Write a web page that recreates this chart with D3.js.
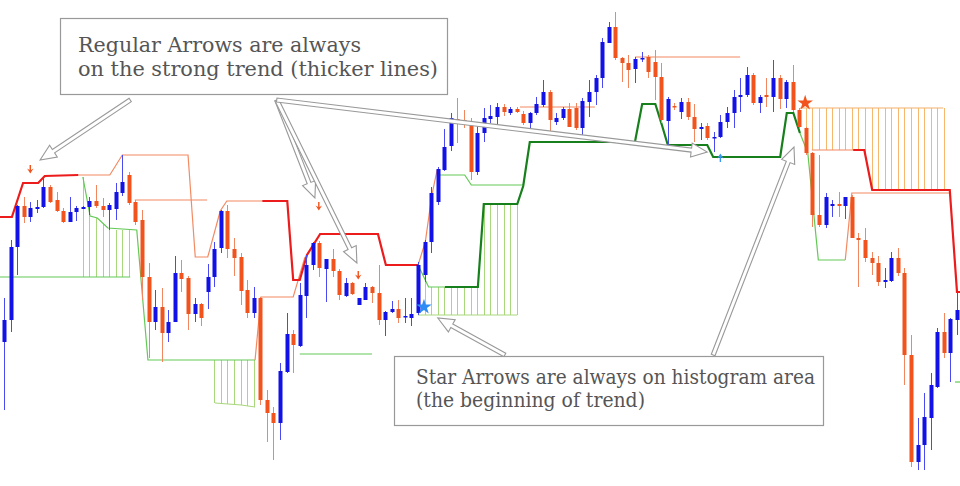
<!DOCTYPE html>
<html><head><meta charset="utf-8">
<script src="https://cdn.jsdelivr.net/npm/d3@7"></script>
<style>html,body{margin:0;padding:0;background:#fff;overflow:hidden}svg{display:block}</style>
</head><body>
<svg id="chart" width="960" height="486"></svg>
<script>
// ---------- candle data (index 0..145) ----------
const opens  = [158,180,253,294,283,291,293,313,300,289, 278,288,291,293,299,294,290,291,307,325,
                298,280,223,178,193,167,178,227,222,186, 196,208,223,252,289,251,243,210,187,202,
                100,87,77,128,166,154,204,235,257,231, 241,229,204,217,195,200,213,207,180,188,
                191,183,182,187,225,258,298,330,354,381, 380,377,328,367,381,383,393,387,391,386,
                377,387,395,408,378,382,391,392,372,398, 408,422,457,473,442,437,431,441,443,438,
                423,379,394,388,398,383,371,374,362,363, 378,387,403,405,425,397,405,403,422,401,
                418,390,372,347,285,275,294,296,294,303, 262,260,242,237,218,219,242,227,145,38,
                55,82,113,168,147,180];
const highs  = [202,260,295,303,298,300,322,315,308,292, 303,294,294,303,315,302,297,317,345,328,
                300,290,237,210,212,190,244,240,224,202, 197,236,258,290,295,262,247,220,213,203,
                110,93,137,187,170,217,245,258,259,241, 251,231,222,218,202,217,214,235,189,199,
                200,202,202,238,260,313,333,371,387,402, 390,382,377,392,395,397,396,393,393,389,
                388,403,420,410,387,393,397,397,402,420, 425,462,478,488,443,445,443,448,445,450,
                437,403,397,402,402,396,377,377,368,385, 393,410,422,433,427,405,422,440,425,420,
                435,392,373,348,345,307,300,308,303,305, 267,272,248,244,232,248,252,232,165,82,
                107,127,172,187,182,208];
const lows   = [90,168,225,277,278,287,292,297,288,277, 278,279,291,285,292,283,270,280,304,295,
                275,200,142,170,138,158,178,208,170,178, 174,191,213,247,242,224,195,182,182,95,
                58,40,60,127,127,153,182,230,223,198, 223,200,203,205,195,200,197,175,164,187,
                177,177,174,185,218,247,295,329,349,357, 372,320,325,358,377,375,384,385,387,375,
                368,385,393,367,375,380,373,370,363,383, 395,412,457,440,418,412,417,438,422,400,
                377,355,390,381,380,358,360,360,348,362, 372,372,388,403,395,387,393,388,391,392,
                388,372,345,273,273,272,283,283,281,262, 213,238,225,214,212,218,224,115,33,30,
                30,50,112,142,118,165];
const closes = [180,253,294,283,292,293,313,298,289,278, 288,292,293,299,294,290,295,308,318,297,
                278,223,178,193,167,178,227,221,186,196, 182,223,251,289,251,242,209,187,202,100,
                87,77,129,166,155,205,235,257,232,241, 229,205,217,206,202,213,207,180,188,191,
                182,184,186,235,258,307,331,353,382,379, 377,328,367,382,384,393,388,391,388,377,
                387,396,408,380,382,391,373,372,399,408, 422,458,473,442,437,430,441,442,428,423,
                380,401,393,398,383,371,373,362,363,378, 387,403,405,425,397,403,403,422,401,418,
                390,373,347,285,275,303,296,294,303,262, 260,242,237,218,220,242,227,145,38,55,
                83,115,168,147,181,190];

// ---------- indicator lines: [candle index, price] ----------
const redThick = [
  [[-1,283],[1.2,283],[2.9,317],[5.2,317],[6.2,324],[11.3,325]],
  [[39.3,299],[43.1,299],[44.0,220],[45.0,220],[46.1,245],[48.1,266],[56.9,266],[58.1,235],[63.0,235]],
  [[129.2,350],[130.9,350],[132.1,310],[143.9,310],[145.0,208],[146.5,208]]
];
const orangeThin = [
  [[11.3,325],[16.1,325],[18.0,345],[28.0,345],[29.1,243],[31.0,243],[32.9,289],[33.9,299],[39.3,299]],
  [[38.2,140],[39.1,203],[44.0,203],[45.8,243]],
  [[63.0,235],[64.1,258],[65.1,305],[65.9,330]],
  [[19.9,300],[30.9,300]],
  [[78.5,393],[89.9,393]],
  [[96.0,443],[112.0,443]],
  [[122.9,350],[129.2,350]],
  [[128.0,240],[129.0,307],[143.9,307]]
];
const greenThick = [
  [[67.1,213],[72.1,213],[73.0,296],[78.1,296],[79.0,314],[80.0,358],[96.0,358],[97.1,396],[99.1,396],
   [100.1,375],[101.0,355],[107.0,355],[107.9,343],[118.1,343],[119.1,387],[120.1,387],[121.1,367]]
];
const greenThin = [
  [[-1,223],[19.2,223]],
  [[12.0,323],[13.1,284],[14.2,282],[15.8,272],[20.2,270],[21.9,140],[38.2,140]],
  [[45.0,146],[56.0,146]],
  [[63.0,235],[64.6,213],[67.1,213]],
  [[121.1,367],[122.3,347],[123.9,240],[128.0,240]],
  [[66.3,325],[70.1,325],[71.1,315],[79.0,315]],
  [[144.7,118],[146.5,118]]
];
const histLines = [ // light histogram border lines
  [[32.1,97],[36.1,95],[38.2,93]],
  [[63.0,185],[78.1,185]]
];
const histTopOrange = [[121.1,392],[142.9,392]];

// ---------- histograms: [index, top price, bottom price] ----------
const greenHist = [
  [12,323,223],[13,286,223],[14,282,223],[15,277,223],[16,271,223],[17,270,223],[18,270,223],[19,270,223],
  [32,140,97],[33,140,96],[34,140,96],[35,140,95],[36,140,95],[37,140,94],[38,140,93],
  [63,235,185],[64,218,185],[65,213,185],[66,213,185],[67,213,185],[68,213,185],[69,213,185],[70,213,185],
  [71,213,185],[72,213,185],[73,296,185],[74,296,185],[75,296,185],[76,296,185],[77,296,185],[78,296,185]
];
const orangeHist = [
  [122,392,350],[123,392,350],[124,392,350],[125,392,350],[126,392,350],[127,392,350],[128,392,350],
  [129,392,350],[130,392,350],[131,392,345],[132,392,312],[133,392,310],[134,392,310],[135,392,310],
  [136,392,310],[137,392,310],[138,392,310],[139,392,310],[140,392,310],[141,392,310],[142,392,310],[143,392,310]
];

// ---------- signal markers ----------
const downArrows = [[4.0,330],[47.9,293],[53.9,224]];
const upArrows = [[109.0,343]];
const stars = [[63.9,193,"#2f8cf5"],[121.9,397,"#f2521c"]];

// ---------- annotation callouts (tail, tip in index/price) ----------
const callouts = [
  [[19.2,400],[5.5,340]],
  [[41.5,400],[47.3,302]],
  [[41.5,400],[53.7,237]],
  [[41.5,400],[107.0,348]],
  [[76.2,145],[66.0,182]],
  [[107.9,145],[120.2,353]]
];
const box1Lines = ["Regular Arrows are always","on the strong trend (thicker lines)"];
const box1Widths = [283,360];
const box2Lines = ["Star Arrows are always on histogram area","(the beginning of trend)"];
const box2Widths = [399,229];

// ---------- drawing ----------
const svg = d3.select("#chart");
const x = d3.scaleLinear().domain([0,145]).range([4,957]);
const y = d3.scaleLinear().domain([14,500]).range([486,0]);
const line = d3.line().x(d=>x(d[0])).y(d=>y(d[1]));

const BLUE="#1212e8", ORANGE="#f2521c";

// histograms
svg.append("g").selectAll("line").data(greenHist).join("line")
  .attr("x1",d=>Math.round(x(d[0]))+0.5).attr("x2",d=>Math.round(x(d[0]))+0.5)
  .attr("y1",d=>y(d[1])).attr("y2",d=>y(d[2]))
  .attr("stroke","#a9d77c").attr("stroke-width",1);
svg.append("g").selectAll("line").data(orangeHist).join("line")
  .attr("x1",d=>Math.round(x(d[0]))+0.5).attr("x2",d=>Math.round(x(d[0]))+0.5)
  .attr("y1",d=>y(d[1])).attr("y2",d=>y(d[2]))
  .attr("stroke","#f6b86c").attr("stroke-width",1);
svg.append("path").attr("d",line(histTopOrange)).attr("fill","none").attr("stroke","#f6b06a").attr("stroke-width",1.2);
svg.append("g").selectAll("path").data(histLines).join("path")
  .attr("d",line).attr("fill","none").attr("stroke","#a9d77c").attr("stroke-width",1.2);

// lines
svg.append("g").selectAll("path").data(greenThin).join("path")
  .attr("d",line).attr("fill","none").attr("stroke","#62c956").attr("stroke-width",1.2);
svg.append("g").selectAll("path").data(orangeThin).join("path")
  .attr("d",line).attr("fill","none").attr("stroke","#f28a62").attr("stroke-width",1.2);
svg.append("g").selectAll("path").data(greenThick).join("path")
  .attr("d",line).attr("fill","none").attr("stroke","#17801c").attr("stroke-width",2.2);
svg.append("g").selectAll("path").data(redThick).join("path")
  .attr("d",line).attr("fill","none").attr("stroke","#ec1c1c").attr("stroke-width",2.2);

// candles
const candles = d3.range(opens.length).map(i=>({i,o:opens[i],h:highs[i],l:lows[i],c:closes[i]}));
const cg = svg.append("g");
cg.selectAll("line").data(candles).join("line")
  .attr("x1",d=>Math.round(x(d.i))+0.5).attr("x2",d=>Math.round(x(d.i))+0.5)
  .attr("y1",d=>y(d.h)).attr("y2",d=>y(d.l))
  .attr("stroke",d=>d.c>=d.o?"#4a4af2":"#f2865e").attr("stroke-width",1);
cg.selectAll("rect").data(candles).join("rect")
  .attr("x",d=>Math.round(x(d.i))-1.5).attr("width",4)
  .attr("y",d=>y(Math.max(d.o,d.c)))
  .attr("height",d=>Math.max(1.5,Math.abs(y(d.o)-y(d.c))))
  .attr("fill",d=>d.c>=d.o?BLUE:ORANGE);

// markers
svg.append("g").selectAll("path").data(downArrows).join("path")
  .attr("transform",d=>`translate(${x(d[0])},${y(d[1])})`)
  .attr("d","M-0.7,-5 L0.7,-5 L0.7,0 L3.2,-1.5 L0,3.5 L-3.2,-1.5 L-0.7,0 Z")
  .attr("fill",ORANGE);
svg.append("g").selectAll("path").data(upArrows).join("path")
  .attr("transform",d=>`translate(${x(d[0])},${y(d[1])})`)
  .attr("d","M-0.7,5 L0.7,5 L0.7,0 L3.2,1.5 L0,-3.5 L-3.2,1.5 L-0.7,0 Z")
  .attr("fill","#3a95f0");
svg.append("g").selectAll("path").data(stars).join("path")
  .attr("transform",d=>`translate(${x(d[0])},${y(d[1])})`)
  .attr("d",d3.symbol().type(d3.symbolStar).size(75))
  .attr("fill",d=>d[2]);

// callout arrows
function arrowPath(t,p){
  const dx=p[0]-t[0], dy=p[1]-t[1], len=Math.hypot(dx,dy);
  const ux=dx/len, uy=dy/len, nx=-uy, ny=ux;
  const L=16, h=7, w=2;
  const bx=p[0]-ux*L, by=p[1]-uy*L;
  const pts=[[t[0]+nx*w,t[1]+ny*w],[bx+nx*w,by+ny*w],[bx+nx*h,by+ny*h],p,
             [bx-nx*h,by-ny*h],[bx-nx*w,by-ny*w],[t[0]-nx*w,t[1]-ny*w]];
  return "M"+pts.map(q=>q[0].toFixed(1)+","+q[1].toFixed(1)).join("L")+"Z";
}
svg.append("g").selectAll("path").data(callouts).join("path")
  .attr("d",d=>arrowPath([x(d[0][0]),y(d[0][1])],[x(d[1][0]),y(d[1][1])]))
  .attr("fill","#fff").attr("stroke","#999").attr("stroke-width",1.1);

// boxes
function box(x0,y0,w,h,lines,widths,tx,ty,lh){
  const g=svg.append("g");
  g.append("rect").attr("x",x0+0.5).attr("y",y0+0.5).attr("width",w).attr("height",h)
    .attr("fill","#fff").attr("stroke","#999").attr("stroke-width",1.2);
  g.selectAll("text").data(lines).join("text")
    .attr("x",tx).attr("y",(d,i)=>ty+i*lh)
    .attr("font-family","'DejaVu Serif', serif").attr("font-size",19.5)
    .attr("textLength",(d,i)=>widths[i]).attr("lengthAdjust","spacingAndGlyphs")
    .attr("fill","#555").text(d=>d);
}
box(60,18,387,76,box1Lines,box1Widths,78,52,24);
box(394,356,429,69,box2Lines,box2Widths,416,384,23);
</script>
</body></html>
